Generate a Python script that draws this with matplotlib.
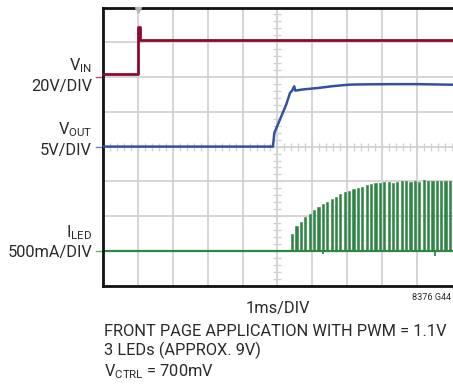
import matplotlib
matplotlib.use("Agg")
import matplotlib.pyplot as plt
import numpy as np

plt.rcParams['font.family'] = ['Roboto', 'DejaVu Sans']
plt.rcParams['mathtext.fontset'] = 'custom'
plt.rcParams['mathtext.rm'] = 'Roboto'
plt.rcParams['mathtext.it'] = 'Roboto'

# scope settings: 10 x 8 divisions, 1ms/DIV
n_xdiv, n_ydiv = 10, 8
time_per_div = 1.0  # ms

# channel settings (zero level in divisions from bottom, volts or mA per division)
vin_zero, vin_scale = 6.0, 20.0
vout_zero, vout_scale = 4.0, 5.0
iled_zero, iled_scale = 1.0, 500.0

# VIN trace (ms, V)
vin_t = [0.0, 1.0, 1.0, 1.06, 1.06, 10.0]
vin_v = [1.5, 1.5, 29.0, 29.0, 21.2, 21.2]

# VOUT trace (ms, V)
vout_t = [0.0, 4.87, 4.91, 5.01, 5.15, 5.25, 5.36, 5.42, 5.48, 5.51, 5.7, 6.2, 6.6, 7.06, 7.5, 8.0, 8.5, 9.0, 10.0]
vout_v = [0.0, 0.0, 1.97, 3.16, 4.84, 6.04, 7.72, 8.05, 8.67, 8.05, 8.2, 8.45, 8.7, 8.91, 8.95, 8.97, 8.98, 8.98, 8.9]

# ILED PWM pulses: start of first pulse, period, on-time (ms), peak current of each pulse (mA)
pwm_start = 5.39
pwm_period = 0.1256
pwm_on = 0.062
iled_peaks = [244, 364, 411, 483, 532, 589, 627, 676, 699, 748, 771, 819, 843, 857,
              891, 906, 924, 953, 963, 982, 982, 996, 992, 982, 992, 1011, 1006, 987,
              1011, 987, 1020, 1001, 1006, 1001, 1011, 1001, 1011]
# short negative glitches on ILED (ms, mA)
iled_glitch_t = [6.31, 9.51]
iled_glitch_i = [-45, -70]

red = '#8e0a2e'
blue = '#3550a2'
green = '#2e8545'
grid_c = '#d2d2d2'
text_c = '#2a2a2a'

fig = plt.figure(figsize=(4.53, 3.85), dpi=100)
ax = fig.add_axes([103 / 453, 1 - 285.7 / 385, 350 / 453, 278.2 / 385])
ax.set_xlim(0, n_xdiv * time_per_div + 0.03)
ax.set_ylim(0, n_ydiv)

# graticule
for gx in range(1, n_xdiv):
    ax.axvline(gx * time_per_div, color=grid_c, lw=1.3, zorder=0)
for gy in range(1, n_ydiv):
    ax.axhline(gy, color=grid_c, lw=1.3, zorder=0)
ax.plot(np.arange(0, n_xdiv + 0.01, 0.2) * time_per_div, np.full(51, n_ydiv / 2),
        ls='none', marker='|', ms=6, mew=1.0, color=grid_c, zorder=0)
ax.plot(np.full(41, n_xdiv / 2 * time_per_div), np.arange(0, n_ydiv + 0.01, 0.2),
        ls='none', marker='_', ms=6, mew=1.0, color=grid_c, zorder=0)

# traces
ax.plot(vin_t, vin_zero + np.array(vin_v) / vin_scale, color=red, lw=2.0, zorder=3)
ax.plot(vout_t, vout_zero + np.array(vout_v) / vout_scale, color=blue, lw=1.8, zorder=3)

pulse_t = pwm_start + pwm_period * np.arange(len(iled_peaks))
ax.axhline(iled_zero, color=green, lw=1.6, zorder=2)
ax.bar(pulse_t, np.array(iled_peaks) / iled_scale, width=pwm_on, bottom=iled_zero,
       align='edge', color=green, edgecolor=green, lw=0.4, zorder=3)
ax.vlines(iled_glitch_t, iled_zero + np.array(iled_glitch_i) / iled_scale, iled_zero,
          color=green, lw=1.3, zorder=3)

# channel zero markers and trigger marker
for z, c in [(vin_zero, red), (vout_zero, blue), (iled_zero, green)]:
    ax.plot([-0.2, 0], [z, z], color=c, lw=1.0, alpha=0.7, clip_on=False)
ax.plot([vin_t[1]], [n_ydiv - 0.07], marker='v', ms=5, color='#b8b8b8', clip_on=False, zorder=5)

ax.set_xticks([])
ax.set_yticks([])
for s in ['left', 'top', 'bottom']:
    ax.spines[s].set_linewidth(2.0)
    ax.spines[s].set_color('#111111')
ax.spines['right'].set_visible(False)

# channel labels
fs = 11.8
labels = [
    (r'V$_{\mathrm{IN}}$', vin_zero, 7),
    ('20V/DIV', vin_zero, -14),
    (r'V$_{\mathrm{OUT}}$', vout_zero, 12),
    ('5V/DIV', vout_zero, -8),
    (r'I$_{\mathrm{LED}}$', iled_zero, 14),
    ('500mA/DIV', iled_zero, -6),
]
for txt, z, dy in labels:
    ax.annotate(txt, xy=(0, z), xycoords=('axes fraction', 'data'),
                xytext=(-11, dy), textcoords='offset pixels',
                ha='right', va='baseline', fontsize=fs, color=text_c)

fig.text(278 / 453, 1 - 313 / 385, '1ms/DIV', ha='center', va='baseline', fontsize=fs, color=text_c)
fig.text(451 / 453, 1 - 300 / 385, '8376 G44', ha='right', va='baseline', fontsize=6.6, color=text_c)
fig.text(104 / 453, 1 - 336.5 / 385, 'FRONT PAGE APPLICATION WITH PWM = 1.1V',
         ha='left', va='baseline', fontsize=fs, color=text_c)
fig.text(104 / 453, 1 - 355.5 / 385, '3 LEDs (APPROX. 9V)',
         ha='left', va='baseline', fontsize=fs, color=text_c)
fig.text(104 / 453, 1 - 376 / 385, r'V$_{\mathrm{CTRL}}$ = 700mV',
         ha='left', va='baseline', fontsize=fs, color=text_c)

fig.savefig('out.png', dpi=100)
